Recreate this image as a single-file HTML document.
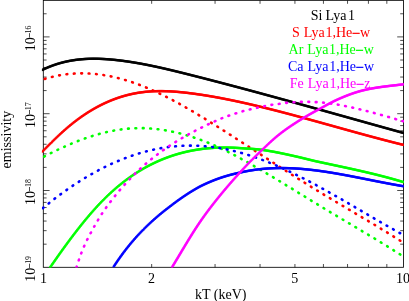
<!DOCTYPE html>
<html><head><meta charset="utf-8"><style>
html,body{margin:0;padding:0;background:#fff;}
svg{display:block;font-family:"Liberation Serif",serif;will-change:transform;}
</style></head><body>
<svg width="409" height="301" viewBox="0 0 409 301">
<rect width="409" height="301" fill="#fff"/>
<defs><path id="black_s" d="M41.9,70.13 L43.3,69.46 L45.3,68.53 L47.3,67.65 L49.3,66.82 L51.3,66.04 L53.3,65.30 L55.3,64.61 L57.3,63.96 L59.3,63.36 L61.3,62.80 L63.3,62.28 L65.3,61.80 L67.3,61.36 L69.3,60.96 L71.3,60.59 L73.3,60.26 L75.3,59.97 L77.3,59.71 L79.3,59.48 L81.3,59.29 L83.3,59.12 L85.3,58.99 L87.3,58.89 L89.3,58.81 L91.3,58.76 L93.3,58.74 L95.3,58.75 L97.3,58.77 L99.3,58.83 L101.3,58.90 L103.3,59.00 L105.3,59.11 L107.3,59.25 L109.3,59.40 L111.3,59.57 L113.3,59.76 L115.3,59.96 L117.3,60.17 L119.3,60.40 L121.3,60.65 L123.3,60.91 L125.3,61.18 L127.3,61.46 L129.3,61.76 L131.3,62.07 L133.3,62.39 L135.3,62.72 L137.3,63.06 L139.3,63.41 L141.3,63.77 L143.3,64.15 L145.3,64.53 L147.3,64.92 L149.3,65.32 L151.3,65.73 L153.3,66.15 L155.3,66.57 L157.3,67.00 L159.3,67.44 L161.3,67.89 L163.3,68.34 L165.3,68.80 L167.3,69.26 L169.3,69.73 L171.3,70.21 L173.3,70.69 L175.3,71.17 L177.3,71.66 L179.3,72.15 L181.3,72.64 L183.3,73.14 L185.3,73.64 L187.3,74.14 L189.3,74.64 L191.3,75.15 L193.3,75.65 L195.3,76.16 L197.3,76.67 L199.3,77.18 L201.3,77.69 L203.3,78.20 L205.3,78.72 L207.3,79.23 L209.3,79.75 L211.3,80.27 L213.3,80.79 L215.3,81.31 L217.3,81.83 L219.3,82.35 L221.3,82.87 L223.3,83.40 L225.3,83.92 L227.3,84.45 L229.3,84.98 L231.3,85.51 L233.3,86.04 L235.3,86.57 L237.3,87.10 L239.3,87.63 L241.3,88.16 L243.3,88.70 L245.3,89.23 L247.3,89.77 L249.3,90.31 L251.3,90.84 L253.3,91.38 L255.3,91.92 L257.3,92.46 L259.3,93.00 L261.3,93.55 L263.3,94.09 L265.3,94.63 L267.3,95.18 L269.3,95.72 L271.3,96.27 L273.3,96.81 L275.3,97.36 L277.3,97.91 L279.3,98.45 L281.3,99.00 L283.3,99.55 L285.3,100.10 L287.3,100.65 L289.3,101.20 L291.3,101.75 L293.3,102.31 L295.3,102.86 L297.3,103.41 L299.3,103.96 L301.3,104.52 L303.3,105.07 L305.3,105.63 L307.3,106.18 L309.3,106.74 L311.3,107.29 L313.3,107.85 L315.3,108.40 L317.3,108.96 L319.3,109.52 L321.3,110.07 L323.3,110.63 L325.3,111.19 L327.3,111.75 L329.3,112.30 L331.3,112.86 L333.3,113.42 L335.3,113.98 L337.3,114.54 L339.3,115.10 L341.3,115.65 L343.3,116.21 L345.3,116.77 L347.3,117.33 L349.3,117.89 L351.3,118.45 L353.3,119.01 L355.3,119.57 L357.3,120.12 L359.3,120.68 L361.3,121.24 L363.3,121.80 L365.3,122.36 L367.3,122.92 L369.3,123.48 L371.3,124.03 L373.3,124.59 L375.3,125.15 L377.3,125.71 L379.3,126.26 L381.3,126.82 L383.3,127.38 L385.3,127.93 L387.3,128.49 L389.3,129.05 L391.3,129.60 L393.3,130.16 L395.3,130.71 L397.3,131.26 L399.3,131.82 L401.3,132.37 L403.3,132.93 L403.5,132.98"/>
<path id="red_s" d="M41.9,152.13 L43.3,150.70 L45.3,148.66 L47.3,146.64 L49.3,144.63 L51.3,142.63 L53.3,140.66 L55.3,138.72 L57.3,136.80 L59.3,134.91 L61.3,133.06 L63.3,131.24 L65.3,129.47 L67.3,127.74 L69.3,126.05 L71.3,124.41 L73.3,122.81 L75.3,121.26 L77.3,119.75 L79.3,118.28 L81.3,116.85 L83.3,115.47 L85.3,114.13 L87.3,112.82 L89.3,111.56 L91.3,110.35 L93.3,109.17 L95.3,108.03 L97.3,106.93 L99.3,105.87 L101.3,104.86 L103.3,103.88 L105.3,102.94 L107.3,102.04 L109.3,101.17 L111.3,100.35 L113.3,99.56 L115.3,98.81 L117.3,98.10 L119.3,97.42 L121.3,96.78 L123.3,96.18 L125.3,95.61 L127.3,95.08 L129.3,94.59 L131.3,94.13 L133.3,93.70 L135.3,93.31 L137.3,92.95 L139.3,92.63 L141.3,92.34 L143.3,92.09 L145.3,91.86 L147.3,91.67 L149.3,91.51 L151.3,91.37 L153.3,91.27 L155.3,91.19 L157.3,91.14 L159.3,91.11 L161.3,91.11 L163.3,91.13 L165.3,91.18 L167.3,91.24 L169.3,91.33 L171.3,91.44 L173.3,91.56 L175.3,91.71 L177.3,91.87 L179.3,92.04 L181.3,92.23 L183.3,92.44 L185.3,92.65 L187.3,92.88 L189.3,93.12 L191.3,93.38 L193.3,93.64 L195.3,93.91 L197.3,94.19 L199.3,94.48 L201.3,94.77 L203.3,95.08 L205.3,95.39 L207.3,95.72 L209.3,96.05 L211.3,96.39 L213.3,96.74 L215.3,97.09 L217.3,97.45 L219.3,97.82 L221.3,98.20 L223.3,98.59 L225.3,98.98 L227.3,99.37 L229.3,99.78 L231.3,100.19 L233.3,100.60 L235.3,101.02 L237.3,101.45 L239.3,101.88 L241.3,102.32 L243.3,102.76 L245.3,103.21 L247.3,103.66 L249.3,104.12 L251.3,104.58 L253.3,105.05 L255.3,105.52 L257.3,106.00 L259.3,106.48 L261.3,106.96 L263.3,107.45 L265.3,107.94 L267.3,108.43 L269.3,108.93 L271.3,109.43 L273.3,109.94 L275.3,110.45 L277.3,110.96 L279.3,111.48 L281.3,112.00 L283.3,112.52 L285.3,113.04 L287.3,113.57 L289.3,114.10 L291.3,114.63 L293.3,115.16 L295.3,115.70 L297.3,116.24 L299.3,116.78 L301.3,117.32 L303.3,117.86 L305.3,118.41 L307.3,118.96 L309.3,119.51 L311.3,120.06 L313.3,120.61 L315.3,121.16 L317.3,121.71 L319.3,122.27 L321.3,122.82 L323.3,123.38 L325.3,123.93 L327.3,124.49 L329.3,125.05 L331.3,125.60 L333.3,126.16 L335.3,126.72 L337.3,127.28 L339.3,127.83 L341.3,128.39 L343.3,128.95 L345.3,129.50 L347.3,130.06 L349.3,130.61 L351.3,131.16 L353.3,131.72 L355.3,132.27 L357.3,132.82 L359.3,133.37 L361.3,133.91 L363.3,134.46 L365.3,135.00 L367.3,135.54 L369.3,136.08 L371.3,136.62 L373.3,137.16 L375.3,137.69 L377.3,138.22 L379.3,138.75 L381.3,139.28 L383.3,139.80 L385.3,140.32 L387.3,140.84 L389.3,141.36 L391.3,141.87 L393.3,142.38 L395.3,142.89 L397.3,143.39 L399.3,143.89 L401.3,144.38 L403.3,144.87 L403.5,144.92"/>
<path id="green_s" d="M49.8,267.88 L51.8,264.99 L53.8,262.11 L55.8,259.25 L57.8,256.40 L59.8,253.58 L61.8,250.79 L63.8,248.01 L65.8,245.26 L67.8,242.54 L69.8,239.84 L71.8,237.17 L73.8,234.54 L75.8,231.93 L77.8,229.36 L79.8,226.82 L81.8,224.31 L83.8,221.84 L85.8,219.41 L87.8,217.02 L89.8,214.67 L91.8,212.36 L93.8,210.10 L95.8,207.88 L97.8,205.70 L99.8,203.58 L101.8,201.50 L103.8,199.47 L105.8,197.48 L107.8,195.55 L109.8,193.67 L111.8,191.83 L113.8,190.04 L115.8,188.30 L117.8,186.60 L119.8,184.95 L121.8,183.34 L123.8,181.77 L125.8,180.25 L127.8,178.77 L129.8,177.34 L131.8,175.94 L133.8,174.59 L135.8,173.27 L137.8,172.00 L139.8,170.77 L141.8,169.57 L143.8,168.41 L145.8,167.29 L147.8,166.21 L149.8,165.16 L151.8,164.15 L153.8,163.18 L155.8,162.24 L157.8,161.33 L159.8,160.45 L161.8,159.61 L163.8,158.80 L165.8,158.03 L167.8,157.28 L169.8,156.56 L171.8,155.88 L173.8,155.22 L175.8,154.60 L177.8,154.00 L179.8,153.43 L181.8,152.90 L183.8,152.39 L185.8,151.90 L187.8,151.45 L189.8,151.02 L191.8,150.62 L193.8,150.24 L195.8,149.90 L197.8,149.57 L199.8,149.28 L201.8,149.00 L203.8,148.76 L205.8,148.53 L207.8,148.33 L209.8,148.16 L211.8,148.00 L213.8,147.87 L215.8,147.77 L217.8,147.68 L219.8,147.62 L221.8,147.58 L223.8,147.56 L225.8,147.55 L227.8,147.57 L229.8,147.61 L231.8,147.67 L233.8,147.74 L235.8,147.84 L237.8,147.95 L239.8,148.08 L241.8,148.22 L243.8,148.39 L245.8,148.53 L247.8,148.63 L249.8,148.74 L251.8,148.87 L253.8,149.02 L255.8,149.17 L257.8,149.34 L259.8,149.53 L261.8,149.81 L263.8,150.11 L265.8,150.42 L267.8,150.74 L269.8,151.08 L271.8,151.42 L273.8,151.78 L275.8,152.15 L277.8,152.55 L279.8,152.95 L281.8,153.36 L283.8,153.78 L285.8,154.21 L287.8,154.64 L289.8,155.08 L291.8,155.52 L293.8,155.97 L295.8,156.42 L297.8,156.88 L299.8,157.33 L301.8,157.82 L303.8,158.31 L305.8,158.80 L307.8,159.30 L309.8,159.79 L311.8,160.28 L313.8,160.77 L315.8,161.24 L317.8,161.67 L319.8,162.10 L321.8,162.53 L323.8,162.96 L325.8,163.38 L327.8,163.81 L329.8,164.24 L331.8,164.66 L333.8,165.09 L335.8,165.52 L337.8,165.94 L339.8,166.37 L341.8,166.80 L343.8,167.23 L345.8,167.66 L347.8,168.10 L349.8,168.53 L351.8,168.97 L353.8,169.41 L355.8,169.86 L357.8,170.31 L359.8,170.76 L361.8,171.22 L363.8,171.68 L365.8,172.14 L367.8,172.61 L369.8,173.09 L371.8,173.57 L373.8,174.05 L375.8,174.54 L377.8,175.04 L379.8,175.55 L381.8,176.06 L383.8,176.58 L385.8,177.10 L387.8,177.63 L389.8,178.17 L391.8,178.72 L393.8,179.28 L395.8,179.85 L397.8,180.42 L399.8,181.00 L401.8,181.60 L403.5,182.11"/>
<path id="blue_s" d="M113.5,267.01 L115.5,263.96 L117.5,260.99 L119.5,258.12 L121.5,255.32 L123.5,252.61 L125.5,249.99 L127.5,247.43 L129.5,244.95 L131.5,242.55 L133.5,240.21 L135.5,237.93 L137.5,235.72 L139.5,233.57 L141.5,231.48 L143.5,229.44 L145.5,227.45 L147.5,225.51 L149.5,223.62 L151.5,221.77 L153.5,219.96 L155.5,218.19 L157.5,216.46 L159.5,214.77 L161.5,213.11 L163.5,211.49 L165.5,209.91 L167.5,208.36 L169.5,206.84 L171.5,205.30 L173.5,203.77 L175.5,202.27 L177.5,200.81 L179.5,199.37 L181.5,197.97 L183.5,196.59 L185.5,195.25 L187.5,193.93 L189.5,192.65 L191.5,191.41 L193.5,190.20 L195.5,189.03 L197.5,187.88 L199.5,186.76 L201.5,185.75 L203.5,184.79 L205.5,183.86 L207.5,182.96 L209.5,182.09 L211.5,181.25 L213.5,180.44 L215.5,179.66 L217.5,178.92 L219.5,178.21 L221.5,177.53 L223.5,176.88 L225.5,176.26 L227.5,175.67 L229.5,175.10 L231.5,174.57 L233.5,174.06 L235.5,173.59 L237.5,173.13 L239.5,172.71 L241.5,172.26 L243.5,171.82 L245.5,171.41 L247.5,171.03 L249.5,170.67 L251.5,170.34 L253.5,170.03 L255.5,169.74 L257.5,169.48 L259.5,169.24 L261.5,169.03 L263.5,168.84 L265.5,168.67 L267.5,168.52 L269.5,168.39 L271.5,168.28 L273.5,168.20 L275.5,168.13 L277.5,168.09 L279.5,168.06 L281.5,168.05 L283.5,168.06 L285.5,168.09 L287.5,168.14 L289.5,168.20 L291.5,168.28 L293.5,168.37 L295.5,168.49 L297.5,168.61 L299.5,168.75 L301.5,168.91 L303.5,169.08 L305.5,169.27 L307.5,169.46 L309.5,169.67 L311.5,169.90 L313.5,170.13 L315.5,170.38 L317.5,170.63 L319.5,170.90 L321.5,171.18 L323.5,171.47 L325.5,171.77 L327.5,172.07 L329.5,172.39 L331.5,172.71 L333.5,173.04 L335.5,173.38 L337.5,173.73 L339.5,174.08 L341.5,174.44 L343.5,174.80 L345.5,175.17 L347.5,175.54 L349.5,175.92 L351.5,176.30 L353.5,176.69 L355.5,177.08 L357.5,177.47 L359.5,177.86 L361.5,178.26 L363.5,178.66 L365.5,179.05 L367.5,179.45 L369.5,179.85 L371.5,180.25 L373.5,180.65 L375.5,181.04 L377.5,181.44 L379.5,181.83 L381.5,182.22 L383.5,182.61 L385.5,182.99 L387.5,183.37 L389.5,183.75 L391.5,184.12 L393.5,184.49 L395.5,184.85 L397.5,185.21 L399.5,185.56 L401.5,185.90 L403.5,186.24"/>
<path id="mag_s" d="M172.0,267.33 L174.0,264.03 L176.0,260.71 L178.0,257.38 L180.0,254.03 L182.0,250.68 L184.0,247.35 L186.0,244.02 L188.0,240.73 L190.0,237.47 L192.0,234.25 L194.0,231.09 L196.0,227.98 L198.0,224.95 L200.0,221.99 L202.0,219.10 L204.0,216.28 L206.0,213.52 L208.0,210.82 L210.0,208.17 L212.0,205.57 L214.0,203.01 L216.0,200.48 L218.0,197.98 L220.0,195.52 L222.0,193.09 L224.0,190.69 L226.0,188.32 L228.0,185.97 L230.0,183.65 L232.0,181.36 L234.0,179.10 L236.0,176.86 L238.0,174.64 L240.0,172.45 L242.0,170.28 L244.0,168.13 L246.0,165.99 L248.0,163.87 L250.0,161.76 L252.0,159.77 L254.0,157.79 L256.0,155.81 L258.0,153.85 L260.0,151.91 L262.0,150.00 L264.0,148.12 L266.0,146.21 L268.0,144.29 L270.0,142.41 L272.0,140.59 L274.0,138.81 L276.0,137.10 L278.0,135.44 L280.0,133.84 L282.0,132.30 L284.0,130.81 L286.0,129.36 L288.0,127.95 L290.0,126.58 L292.0,125.23 L294.0,123.92 L296.0,122.62 L298.0,121.33 L300.0,120.08 L302.0,118.85 L304.0,117.65 L306.0,116.47 L308.0,115.31 L310.0,114.18 L312.0,113.06 L314.0,111.95 L316.0,110.86 L318.0,109.78 L320.0,108.72 L322.0,107.59 L324.0,106.48 L326.0,105.39 L328.0,104.30 L330.0,103.23 L332.0,102.18 L334.0,101.15 L336.0,100.22 L338.0,99.31 L340.0,98.43 L342.0,97.57 L344.0,96.73 L346.0,95.93 L348.0,95.15 L350.0,94.40 L352.0,93.68 L354.0,93.00 L356.0,92.36 L358.0,91.74 L360.0,91.17 L362.0,90.64 L364.0,90.14 L366.0,89.67 L368.0,89.23 L370.0,88.83 L372.0,88.45 L374.0,88.09 L376.0,87.76 L378.0,87.45 L380.0,87.15 L382.0,86.87 L384.0,86.61 L386.0,86.36 L388.0,86.11 L390.0,85.87 L392.0,85.64 L394.0,85.41 L396.0,85.19 L398.0,84.96 L400.0,84.72 L402.0,84.48 L403.5,84.30"/><clipPath id="c"><rect x="41.9" y="0.5" width="362.09999999999997" height="266.90000000000003"/></clipPath></defs>
<rect x="43.3" y="0.35" width="360.2" height="266.95" fill="none" stroke="#000" stroke-width="0.85"/>
<path d="M151.67,267.3 v-3.3 M151.67,0.5 v3.3 M215.06,267.3 v-3.3 M215.06,0.5 v3.3 M260.04,267.3 v-3.3 M260.04,0.5 v3.3 M294.93,267.3 v-3.3 M294.93,0.5 v3.3 M323.43,267.3 v-3.3 M323.43,0.5 v3.3 M347.54,267.3 v-3.3 M347.54,0.5 v3.3 M368.41,267.3 v-3.3 M368.41,0.5 v3.3 M386.83,267.3 v-3.3 M386.83,0.5 v3.3 M43.3,244.18 h3.3 M403.5,244.18 h-3.3 M43.3,230.66 h3.3 M403.5,230.66 h-3.3 M43.3,221.06 h3.3 M403.5,221.06 h-3.3 M43.3,213.62 h3.3 M403.5,213.62 h-3.3 M43.3,207.54 h3.3 M403.5,207.54 h-3.3 M43.3,202.40 h3.3 M403.5,202.40 h-3.3 M43.3,197.94 h3.3 M403.5,197.94 h-3.3 M43.3,194.01 h3.3 M403.5,194.01 h-3.3 M43.3,190.50 h6.3 M403.5,190.50 h-6.3 M43.3,167.38 h3.3 M403.5,167.38 h-3.3 M43.3,153.86 h3.3 M403.5,153.86 h-3.3 M43.3,144.26 h3.3 M403.5,144.26 h-3.3 M43.3,136.82 h3.3 M403.5,136.82 h-3.3 M43.3,130.74 h3.3 M403.5,130.74 h-3.3 M43.3,125.60 h3.3 M403.5,125.60 h-3.3 M43.3,121.14 h3.3 M403.5,121.14 h-3.3 M43.3,117.21 h3.3 M403.5,117.21 h-3.3 M43.3,113.70 h6.3 M403.5,113.70 h-6.3 M43.3,90.58 h3.3 M403.5,90.58 h-3.3 M43.3,77.06 h3.3 M403.5,77.06 h-3.3 M43.3,67.46 h3.3 M403.5,67.46 h-3.3 M43.3,60.02 h3.3 M403.5,60.02 h-3.3 M43.3,53.94 h3.3 M403.5,53.94 h-3.3 M43.3,48.80 h3.3 M403.5,48.80 h-3.3 M43.3,44.34 h3.3 M403.5,44.34 h-3.3 M43.3,40.41 h3.3 M403.5,40.41 h-3.3 M43.3,36.90 h6.3 M403.5,36.90 h-6.3 M43.3,13.78 h3.3 M403.5,13.78 h-3.3" stroke="#000" stroke-width="0.7" fill="none"/>
<g fill="none" clip-path="url(#c)" stroke-linejoin="round">
<g stroke="#000" stroke-width="0.8"><use href="#black_s" x="-0.68" y="-0.68"/><use href="#black_s" x="-0.68" y="0"/><use href="#black_s" x="-0.68" y="0.68"/><use href="#black_s" x="0" y="-0.68"/><use href="#black_s" x="0" y="0"/><use href="#black_s" x="0" y="0.68"/><use href="#black_s" x="0.68" y="-0.68"/><use href="#black_s" x="0.68" y="0"/><use href="#black_s" x="0.68" y="0.68"/></g>
<g stroke="#f00" stroke-width="0.8"><use href="#red_s" x="-0.68" y="-0.68"/><use href="#red_s" x="-0.68" y="0"/><use href="#red_s" x="-0.68" y="0.68"/><use href="#red_s" x="0" y="-0.68"/><use href="#red_s" x="0" y="0"/><use href="#red_s" x="0" y="0.68"/><use href="#red_s" x="0.68" y="-0.68"/><use href="#red_s" x="0.68" y="0"/><use href="#red_s" x="0.68" y="0.68"/></g>
<path d="M41.9,79.83 L43.3,79.37 L45.3,78.75 L47.3,78.16 L49.3,77.60 L51.3,77.08 L53.3,76.60 L55.3,76.15 L57.3,75.73 L59.3,75.35 L61.3,75.00 L63.3,74.69 L65.3,74.41 L67.3,74.16 L69.3,73.95 L71.3,73.77 L73.3,73.62 L75.3,73.50 L77.3,73.41 L79.3,73.36 L81.3,73.33 L83.3,73.34 L85.3,73.38 L87.3,73.44 L89.3,73.54 L91.3,73.67 L93.3,73.82 L95.3,74.00 L97.3,74.22 L99.3,74.46 L101.3,74.73 L103.3,75.03 L105.3,75.35 L107.3,75.70 L109.3,76.08 L111.3,76.49 L113.3,76.92 L115.3,77.37 L117.3,77.86 L119.3,78.37 L121.3,78.90 L123.3,79.46 L125.3,80.04 L127.3,80.65 L129.3,81.28 L131.3,81.93 L133.3,82.61 L135.3,83.31 L137.3,84.04 L139.3,84.78 L141.3,85.55 L143.3,86.34 L145.3,87.15 L147.3,87.99 L149.3,88.84 L151.3,89.71 L153.3,90.60 L155.3,91.52 L157.3,92.45 L159.3,93.39 L161.3,94.36 L163.3,95.34 L165.3,96.34 L167.3,97.35 L169.3,98.38 L171.3,99.43 L173.3,100.49 L175.3,101.56 L177.3,102.65 L179.3,103.75 L181.3,104.86 L183.3,105.99 L185.3,107.13 L187.3,108.28 L189.3,109.43 L191.3,110.60 L193.3,111.78 L195.3,112.97 L197.3,114.17 L199.3,115.38 L201.3,116.59 L203.3,117.81 L205.3,119.04 L207.3,120.28 L209.3,121.52 L211.3,122.77 L213.3,124.02 L215.3,125.27 L217.3,126.53 L219.3,127.80 L221.3,129.07 L223.3,130.34 L225.3,131.61 L227.3,132.89 L229.3,134.18 L231.3,135.46 L233.3,136.75 L235.3,138.04 L237.3,139.33 L239.3,140.62 L241.3,141.92 L243.3,143.21 L245.3,144.51 L247.3,145.81 L249.3,147.11 L251.3,148.41 L253.3,149.72 L255.3,151.02 L257.3,152.32 L259.3,153.63 L261.3,154.93 L263.3,156.23 L265.3,157.53 L267.3,158.84 L269.3,160.14 L271.3,161.44 L273.3,162.74 L275.3,164.03 L277.3,165.33 L279.3,166.62 L281.3,167.91 L283.3,169.20 L285.3,170.49 L287.3,171.77 L289.3,173.05 L291.3,174.33 L293.3,175.61 L295.3,176.88 L297.3,178.15 L299.3,179.41 L301.3,180.67 L303.3,181.93 L305.3,183.18 L307.3,184.43 L309.3,185.67 L311.3,186.91 L313.3,188.14 L315.3,189.37 L317.3,190.59 L319.3,191.81 L321.3,193.03 L323.3,194.24 L325.3,195.45 L327.3,196.65 L329.3,197.85 L331.3,199.05 L333.3,200.25 L335.3,201.44 L337.3,202.64 L339.3,203.83 L341.3,205.02 L343.3,206.20 L345.3,207.39 L347.3,208.58 L349.3,209.77 L351.3,210.95 L353.3,212.14 L355.3,213.33 L357.3,214.52 L359.3,215.71 L361.3,216.90 L363.3,218.09 L365.3,219.28 L367.3,220.48 L369.3,221.68 L371.3,222.88 L373.3,224.08 L375.3,225.29 L377.3,226.50 L379.3,227.71 L381.3,228.93 L383.3,230.15 L385.3,231.37 L387.3,232.61 L389.3,233.84 L391.3,235.08 L393.3,236.33 L395.3,237.58 L397.3,238.84 L399.3,240.10 L401.3,241.37 L403.3,242.65 L403.5,242.78" stroke="#f00" stroke-width="2.6" stroke-dasharray="0.8 6.61" stroke-dashoffset="-3.0" stroke-linecap="round"/>
<g stroke="#0f0" stroke-width="0.8"><use href="#green_s" x="-0.68" y="-0.68"/><use href="#green_s" x="-0.68" y="0"/><use href="#green_s" x="-0.68" y="0.68"/><use href="#green_s" x="0" y="-0.68"/><use href="#green_s" x="0" y="0"/><use href="#green_s" x="0" y="0.68"/><use href="#green_s" x="0.68" y="-0.68"/><use href="#green_s" x="0.68" y="0"/><use href="#green_s" x="0.68" y="0.68"/></g>
<path d="M41.9,157.79 L43.3,157.05 L45.3,156.00 L47.3,154.96 L49.3,153.94 L51.3,152.93 L53.3,151.94 L55.3,150.96 L57.3,149.99 L59.3,149.05 L61.3,148.12 L63.3,147.20 L65.3,146.30 L67.3,145.42 L69.3,144.56 L71.3,143.71 L73.3,142.88 L75.3,142.08 L77.3,141.29 L79.3,140.52 L81.3,139.77 L83.3,139.03 L85.3,138.32 L87.3,137.63 L89.3,136.97 L91.3,136.32 L93.3,135.69 L95.3,135.09 L97.3,134.51 L99.3,133.95 L101.3,133.42 L103.3,132.90 L105.3,132.42 L107.3,131.95 L109.3,131.52 L111.3,131.10 L113.3,130.71 L115.3,130.35 L117.3,130.01 L119.3,129.70 L121.3,129.42 L123.3,129.16 L125.3,128.93 L127.3,128.73 L129.3,128.56 L131.3,128.41 L133.3,128.30 L135.3,128.21 L137.3,128.15 L139.3,128.12 L141.3,128.13 L143.3,128.16 L145.3,128.22 L147.3,128.31 L149.3,128.42 L151.3,128.57 L153.3,128.74 L155.3,128.94 L157.3,129.16 L159.3,129.42 L161.3,129.69 L163.3,130.00 L165.3,130.33 L167.3,130.68 L169.3,131.05 L171.3,131.46 L173.3,131.88 L175.3,132.33 L177.3,132.80 L179.3,133.29 L181.3,133.80 L183.3,134.34 L185.3,134.89 L187.3,135.47 L189.3,136.07 L191.3,136.69 L193.3,137.32 L195.3,137.98 L197.3,138.66 L199.3,139.36 L201.3,140.08 L203.3,140.82 L205.3,141.58 L207.3,142.37 L209.3,143.18 L211.3,144.01 L213.3,144.86 L215.3,145.74 L217.3,146.64 L219.3,147.56 L221.3,148.50 L223.3,149.47 L225.3,150.45 L227.3,151.45 L229.3,152.47 L231.3,153.50 L233.3,154.54 L235.3,155.60 L237.3,156.67 L239.3,157.76 L241.3,158.85 L243.3,159.95 L245.3,161.06 L247.3,162.18 L249.3,163.30 L251.3,164.44 L253.3,165.58 L255.3,166.73 L257.3,167.88 L259.3,169.05 L261.3,170.22 L263.3,171.39 L265.3,172.57 L267.3,173.76 L269.3,174.95 L271.3,176.14 L273.3,177.35 L275.3,178.55 L277.3,179.76 L279.3,180.97 L281.3,182.19 L283.3,183.40 L285.3,184.63 L287.3,185.85 L289.3,187.07 L291.3,188.30 L293.3,189.53 L295.3,190.76 L297.3,191.99 L299.3,193.22 L301.3,194.45 L303.3,195.68 L305.3,196.91 L307.3,198.14 L309.3,199.37 L311.3,200.60 L313.3,201.83 L315.3,203.05 L317.3,204.27 L319.3,205.49 L321.3,206.71 L323.3,207.92 L325.3,209.13 L327.3,210.34 L329.3,211.54 L331.3,212.74 L333.3,213.94 L335.3,215.13 L337.3,216.33 L339.3,217.52 L341.3,218.71 L343.3,219.90 L345.3,221.09 L347.3,222.28 L349.3,223.46 L351.3,224.65 L353.3,225.84 L355.3,227.03 L357.3,228.22 L359.3,229.41 L361.3,230.60 L363.3,231.79 L365.3,232.99 L367.3,234.18 L369.3,235.38 L371.3,236.59 L373.3,237.79 L375.3,239.00 L377.3,240.21 L379.3,241.43 L381.3,242.65 L383.3,243.88 L385.3,245.11 L387.3,246.34 L389.3,247.58 L391.3,248.82 L393.3,250.08 L395.3,251.33 L397.3,252.60 L399.3,253.87 L401.3,255.14 L403.3,256.43 L403.5,256.56" stroke="#0f0" stroke-width="2.6" stroke-dasharray="0.8 6.61" stroke-dashoffset="-2.6" stroke-linecap="round"/>
<g stroke="#00f" stroke-width="0.8"><use href="#blue_s" x="-0.68" y="-0.68"/><use href="#blue_s" x="-0.68" y="0"/><use href="#blue_s" x="-0.68" y="0.68"/><use href="#blue_s" x="0" y="-0.68"/><use href="#blue_s" x="0" y="0"/><use href="#blue_s" x="0" y="0.68"/><use href="#blue_s" x="0.68" y="-0.68"/><use href="#blue_s" x="0.68" y="0"/><use href="#blue_s" x="0.68" y="0.68"/></g>
<path d="M41.9,208.91 L43.3,207.75 L45.3,206.11 L47.3,204.49 L49.3,202.89 L51.3,201.31 L53.3,199.76 L55.3,198.22 L57.3,196.71 L59.3,195.22 L61.3,193.75 L63.3,192.30 L65.3,190.87 L67.3,189.46 L69.3,188.07 L71.3,186.71 L73.3,185.37 L75.3,184.04 L77.3,182.74 L79.3,181.47 L81.3,180.21 L83.3,178.97 L85.3,177.76 L87.3,176.57 L89.3,175.40 L91.3,174.25 L93.3,173.12 L95.3,172.02 L97.3,170.93 L99.3,169.87 L101.3,168.83 L103.3,167.82 L105.3,166.82 L107.3,165.85 L109.3,164.90 L111.3,163.97 L113.3,163.07 L115.3,162.18 L117.3,161.32 L119.3,160.48 L121.3,159.67 L123.3,158.87 L125.3,158.10 L127.3,157.35 L129.3,156.63 L131.3,155.92 L133.3,155.24 L135.3,154.59 L137.3,153.95 L139.3,153.34 L141.3,152.75 L143.3,152.19 L145.3,151.65 L147.3,151.13 L149.3,150.63 L151.3,150.16 L153.3,149.71 L155.3,149.28 L157.3,148.88 L159.3,148.50 L161.3,148.15 L163.3,147.81 L165.3,147.50 L167.3,147.22 L169.3,146.96 L171.3,146.72 L173.3,146.50 L175.3,146.31 L177.3,146.14 L179.3,146.00 L181.3,145.88 L183.3,145.78 L185.3,145.70 L187.3,145.65 L189.3,145.63 L191.3,145.63 L193.3,145.65 L195.3,145.69 L197.3,145.76 L199.3,145.85 L201.3,145.97 L203.3,146.11 L205.3,146.27 L207.3,146.45 L209.3,146.66 L211.3,146.89 L213.3,147.14 L215.3,147.41 L217.3,147.71 L219.3,148.03 L221.3,148.37 L223.3,148.73 L225.3,149.11 L227.3,149.52 L229.3,149.94 L231.3,150.39 L233.3,150.86 L235.3,151.34 L237.3,151.85 L239.3,152.38 L241.3,152.93 L243.3,153.50 L245.3,154.09 L247.3,154.70 L249.3,155.33 L251.3,155.98 L253.3,156.64 L255.3,157.33 L257.3,158.03 L259.3,158.75 L261.3,159.49 L263.3,160.24 L265.3,161.01 L267.3,161.79 L269.3,162.60 L271.3,163.41 L273.3,164.25 L275.3,165.09 L277.3,165.95 L279.3,166.83 L281.3,167.72 L283.3,168.62 L285.3,169.54 L287.3,170.47 L289.3,171.41 L291.3,172.37 L293.3,173.33 L295.3,174.31 L297.3,175.30 L299.3,176.30 L301.3,177.31 L303.3,178.33 L305.3,179.36 L307.3,180.40 L309.3,181.44 L311.3,182.50 L313.3,183.57 L315.3,184.64 L317.3,185.72 L319.3,186.81 L321.3,187.91 L323.3,189.01 L325.3,190.12 L327.3,191.24 L329.3,192.36 L331.3,193.49 L333.3,194.62 L335.3,195.76 L337.3,196.90 L339.3,198.05 L341.3,199.20 L343.3,200.35 L345.3,201.51 L347.3,202.67 L349.3,203.83 L351.3,205.00 L353.3,206.16 L355.3,207.33 L357.3,208.50 L359.3,209.67 L361.3,210.84 L363.3,212.01 L365.3,213.18 L367.3,214.35 L369.3,215.52 L371.3,216.69 L373.3,217.86 L375.3,219.02 L377.3,220.19 L379.3,221.35 L381.3,222.51 L383.3,223.66 L385.3,224.81 L387.3,225.96 L389.3,227.10 L391.3,228.24 L393.3,229.38 L395.3,230.50 L397.3,231.63 L399.3,232.75 L401.3,233.86 L403.3,234.96 L403.5,235.07" stroke="#00f" stroke-width="2.6" stroke-dasharray="0.8 6.61" stroke-dashoffset="-1.3" stroke-linecap="round"/>
<g stroke="#f0f" stroke-width="0.8"><use href="#mag_s" x="-0.68" y="-0.68"/><use href="#mag_s" x="-0.68" y="0"/><use href="#mag_s" x="-0.68" y="0.68"/><use href="#mag_s" x="0" y="-0.68"/><use href="#mag_s" x="0" y="0"/><use href="#mag_s" x="0" y="0.68"/><use href="#mag_s" x="0.68" y="-0.68"/><use href="#mag_s" x="0.68" y="0"/><use href="#mag_s" x="0.68" y="0.68"/></g>
<path d="M76.5,267.41 L78.5,260.97 L80.5,255.21 L82.5,250.05 L84.5,245.37 L86.5,241.09 L88.5,237.10 L90.5,233.33 L92.5,229.67 L94.5,226.07 L96.5,222.56 L98.5,219.17 L100.5,215.92 L102.5,212.82 L104.5,209.87 L106.5,207.04 L108.5,204.31 L110.5,201.65 L112.5,199.06 L114.5,196.52 L116.5,194.05 L118.5,191.63 L120.5,189.27 L122.5,186.96 L124.5,184.71 L126.5,182.52 L128.5,180.37 L130.5,178.27 L132.5,176.23 L134.5,174.23 L136.5,172.28 L138.5,170.38 L140.5,168.52 L142.5,166.70 L144.5,164.93 L146.5,163.20 L148.5,161.50 L150.5,159.85 L152.5,158.24 L154.5,156.66 L156.5,155.12 L158.5,153.61 L160.5,152.13 L162.5,150.69 L164.5,149.28 L166.5,147.90 L168.5,146.54 L170.5,145.22 L172.5,143.92 L174.5,142.65 L176.5,141.40 L178.5,140.18 L180.5,138.98 L182.5,137.80 L184.5,136.65 L186.5,135.52 L188.5,134.41 L190.5,133.31 L192.5,132.24 L194.5,131.19 L196.5,130.15 L198.5,129.13 L200.5,128.12 L202.5,127.13 L204.5,126.15 L206.5,125.19 L208.5,124.24 L210.5,123.30 L212.5,122.37 L214.5,121.45 L216.5,120.54 L218.5,119.63 L220.5,118.77 L222.5,118.00 L224.5,117.25 L226.5,116.51 L228.5,115.80 L230.5,115.10 L232.5,114.43 L234.5,113.78 L236.5,113.13 L238.5,112.50 L240.5,111.90 L242.5,111.33 L244.5,110.79 L246.5,110.29 L248.5,109.82 L250.5,109.32 L252.5,108.83 L254.5,108.37 L256.5,107.93 L258.5,107.46 L260.5,107.02 L262.5,106.59 L264.5,106.19 L266.5,105.78 L268.5,105.39 L270.5,105.00 L272.5,104.71 L274.5,104.46 L276.5,104.22 L278.5,103.99 L280.5,103.70 L282.5,103.41 L284.5,103.12 L286.5,102.87 L288.5,102.67 L290.5,102.49 L292.5,102.32 L294.5,102.19 L296.5,102.09 L298.5,102.00 L300.5,101.93 L302.5,101.88 L304.5,101.85 L306.5,101.84 L308.5,101.85 L310.5,101.89 L312.5,101.94 L314.5,102.02 L316.5,102.13 L318.5,102.26 L320.5,102.41 L322.5,102.59 L324.5,102.79 L326.5,103.01 L328.5,103.26 L330.5,103.53 L332.5,103.81 L334.5,104.12 L336.5,104.45 L338.5,104.79 L340.5,105.15 L342.5,105.52 L344.5,105.92 L346.5,106.32 L348.5,106.74 L350.5,107.17 L352.5,107.62 L354.5,108.07 L356.5,108.54 L358.5,109.01 L360.5,109.50 L362.5,109.99 L364.5,110.49 L366.5,111.00 L368.5,111.51 L370.5,112.04 L372.5,112.56 L374.5,113.10 L376.5,113.64 L378.5,114.18 L380.5,114.73 L382.5,115.29 L384.5,115.85 L386.5,116.41 L388.5,116.98 L390.5,117.54 L392.5,118.12 L394.5,118.69 L396.5,119.27 L398.5,119.84 L400.5,120.42 L402.5,121.00 L403.5,121.29" stroke="#f0f" stroke-width="2.6" stroke-dasharray="0.8 6.61" stroke-dashoffset="0.0" stroke-linecap="round"/>
</g>
<g fill="#000" font-size="14">
<text transform="translate(35.1,281.7) rotate(-90)" font-size="14">10<tspan font-size="7.8" dy="-4.3" stroke="#000" stroke-width="0.25">–</tspan><tspan font-size="7.8">19</tspan></text>
<text transform="translate(35.1,204.9) rotate(-90)" font-size="14">10<tspan font-size="7.8" dy="-4.3" stroke="#000" stroke-width="0.25">–</tspan><tspan font-size="7.8">18</tspan></text>
<text transform="translate(35.1,128.1) rotate(-90)" font-size="14">10<tspan font-size="7.8" dy="-4.3" stroke="#000" stroke-width="0.25">–</tspan><tspan font-size="7.8">17</tspan></text>
<text transform="translate(35.1,51.3) rotate(-90)" font-size="14">10<tspan font-size="7.8" dy="-4.3" stroke="#000" stroke-width="0.25">–</tspan><tspan font-size="7.8">16</tspan></text>
<text x="43.4" y="282.8" text-anchor="middle">1</text>
<text x="151.4" y="282.8" text-anchor="middle">2</text>
<text x="294.8" y="282.8" text-anchor="middle">5</text>
<text x="403.1" y="282.8" text-anchor="middle">10</text>
<text x="220.8" y="298.5" text-anchor="middle">kT (keV)</text>
<text transform="translate(10.6,139.6) rotate(-90)" text-anchor="middle">emissivity</text>
</g>
<g font-size="14" style="word-spacing:0.5px">
<text x="310.8" y="20" fill="#000" style="word-spacing:-0.5px">Si Lya<tspan dx="1.5">1</tspan></text>
<text x="292.0" y="37" fill="#f00">S Lya<tspan dx="0.6">1</tspan>,He<tspan stroke="#f00" stroke-width="0.5" dy="1.1">−</tspan><tspan dy="-1.1">w</tspan></text>
<text x="288.6" y="54" fill="#0f0">Ar Lya<tspan dx="0.6">1</tspan>,He<tspan stroke="#0f0" stroke-width="0.5" dy="1.1">−</tspan><tspan dy="-1.1">w</tspan></text>
<text x="288.0" y="71" fill="#00f">Ca Lya<tspan dx="0.6">1</tspan>,He<tspan stroke="#00f" stroke-width="0.5" dy="1.1">−</tspan><tspan dy="-1.1">w</tspan></text>
<text x="289.8" y="88" fill="#f0f">Fe Lya<tspan dx="0.6">1</tspan>,He<tspan stroke="#f0f" stroke-width="0.5" dy="1.1">−</tspan><tspan dy="-1.1">z</tspan></text>
</g>
</svg>
</body></html>
